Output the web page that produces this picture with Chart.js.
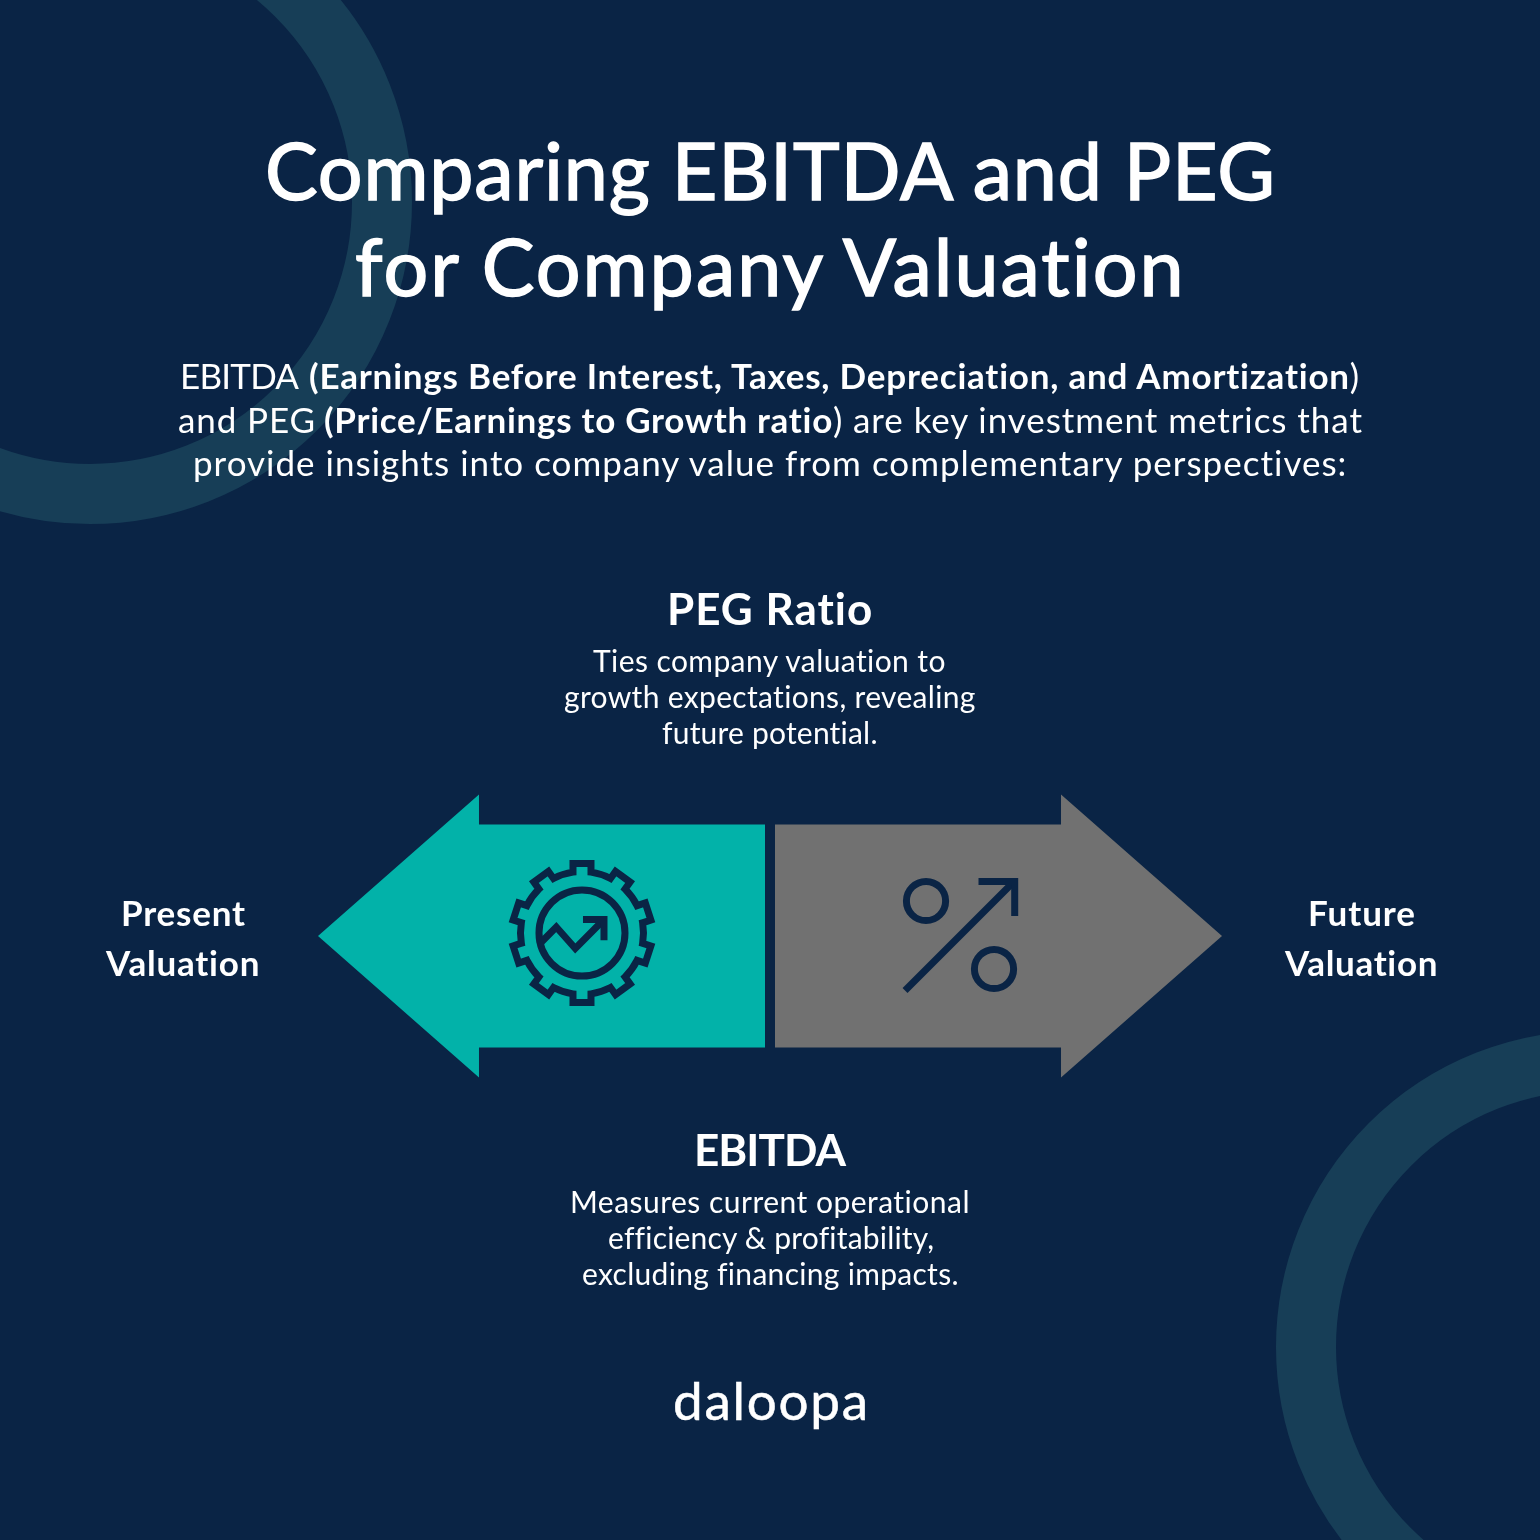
<!DOCTYPE html>
<html>
<head>
<meta charset="utf-8">
<script src="https://cdn.jsdelivr.net/npm/chart.js@4/dist/chart.umd.min.js"></script>
<style>
html,body{margin:0;padding:0;background:#0a2445;}
#stage{position:relative;width:1540px;height:1540px;overflow:hidden;background:#0a2445;}
canvas{position:absolute;left:0;top:0;}
.t{position:absolute;white-space:nowrap;line-height:0;color:#fff;font-family:Lato,sans-serif;font-weight:400;}
.title{font-size:79px;-webkit-text-stroke:1.5px #fff;}
.body{font-size:35px;}
.body b{font-weight:700;}
.head{font-size:44px;font-weight:700;}
.desc{font-size:30px;}
.side{font-size:35px;font-weight:700;}
.logo{font-size:53px;-webkit-text-stroke:0.5px #fff;}
</style>
</head>
<body>
<div id="stage">
<canvas id="chart" width="1540" height="1540"></canvas>
<div class="t title" data-x="265" data-w="1010" data-b="200">Comparing EBITDA and PEG</div>
<div class="t title" data-x="355" data-w="830" data-b="296">for Company Valuation</div>
<div class="t body" data-x="180" data-w="119" data-b="389">EBITDA</div>
<div class="t body" data-x="309" data-w="1052" data-b="389"><b>(Earnings Before Interest, Taxes, Depreciation, and Amortization</b>)</div>
<div class="t body" data-x="178" data-w="137" data-b="433">and PEG</div>
<div class="t body" data-x="324" data-w="519" data-b="433"><b>(Price/Earnings to Growth ratio</b>)</div>
<div class="t body" data-x="853" data-w="509" data-b="433">are key investment metrics that</div>
<div class="t body" data-x="193" data-w="1154" data-b="476">provide insights into company value from complementary perspectives:</div>
<div class="t head" data-x="667" data-w="206" data-b="625">PEG Ratio</div>
<div class="t desc" data-x="593" data-w="353" data-b="672">Ties company valuation to</div>
<div class="t desc" data-x="564" data-w="412" data-b="708">growth expectations, revealing</div>
<div class="t desc" data-x="662" data-w="216" data-b="744">future potential.</div>
<div class="t side" data-x="121" data-w="124" data-b="926">Present</div>
<div class="t side" data-x="106" data-w="154" data-b="976">Valuation</div>
<div class="t side" data-x="1308" data-w="107" data-b="926">Future</div>
<div class="t side" data-x="1285" data-w="153" data-b="976">Valuation</div>
<div class="t head" data-x="694" data-w="152" data-b="1166">EBITDA</div>
<div class="t desc" data-x="570" data-w="400" data-b="1213">Measures current operational</div>
<div class="t desc" data-x="608" data-w="324" data-b="1249">efficiency &amp; profitability,</div>
<div class="t desc" data-x="582" data-w="376" data-b="1285">excluding financing impacts.</div>
<div class="t logo" data-x="673" data-w="195" data-b="1420">daloopa</div>
</div>
<script>
const categories = ["Valuation"];
const seriesNames = ["EBITDA", "PEG Ratio"];
const ebitdaValues = [-100];
const pegValues = [100];

const NAVY = "#0a2445", RING = "#173e57", TEAL = "#02b2a9", GREY = "#717171";

function gearIcon(ctx, cx, cy) {
  ctx.save();
  ctx.translate(cx, cy);
  ctx.strokeStyle = NAVY; ctx.lineWidth = 7; ctx.lineJoin = "miter"; ctx.lineCap = "butt";
  ctx.beginPath();
  const n = 10, base = 61.5, tip = 69.5, hw = 9;
  const da = Math.asin(hw / base);
  for (let i = 0; i < n; i++) {
    const a = -Math.PI / 2 + i * 2 * Math.PI / n;
    const ux = Math.cos(a), uy = Math.sin(a), vx = -uy, vy = ux;
    ctx.arc(0, 0, base, a - 2 * Math.PI / n + da, a - da);
    ctx.lineTo(ux * tip - vx * hw, uy * tip - vy * hw);
    ctx.lineTo(ux * tip + vx * hw, uy * tip + vy * hw);
    ctx.lineTo(ux * base + vx * hw, uy * base + vy * hw);
  }
  ctx.closePath();
  ctx.stroke();
  ctx.beginPath(); ctx.arc(0, 0, 43, 0, 2 * Math.PI); ctx.stroke();
  ctx.beginPath();
  ctx.moveTo(-43, 11.5); ctx.lineTo(-25.7, -6); ctx.lineTo(-6.7, 15.5); ctx.lineTo(22, -13.5);
  ctx.stroke();
  ctx.beginPath();
  ctx.moveTo(1, -13.5); ctx.lineTo(22, -13.5); ctx.lineTo(22, 7.3);
  ctx.stroke();
  ctx.restore();
}
function percentIcon(ctx, cx, cy) {
  ctx.save();
  ctx.translate(cx, cy);
  ctx.strokeStyle = NAVY; ctx.lineWidth = 7; ctx.lineJoin = "miter";
  ctx.beginPath(); ctx.arc(-34, -34, 19.6, 0, 2 * Math.PI); ctx.stroke();
  ctx.beginPath(); ctx.arc(34, 34, 19.6, 0, 2 * Math.PI); ctx.stroke();
  ctx.beginPath(); ctx.moveTo(-55, 55.5); ctx.lineTo(54.5, -54); ctx.stroke();
  ctx.beginPath(); ctx.moveTo(18.5, -53.5); ctx.lineTo(54.7, -53.5); ctx.lineTo(54.7, -19); ctx.stroke();
  ctx.restore();
}
const rings = {
  id: "rings",
  beforeDatasetsDraw(chart) {
    const c = chart.ctx;
    c.save();
    c.strokeStyle = RING; c.lineWidth = 60;
    c.beginPath(); c.arc(90, 202, 292, 0, 2 * Math.PI); c.stroke();
    c.beginPath(); c.arc(1592.4, 1347, 286.4, 0, 2 * Math.PI); c.stroke();
    c.restore();
  }
};
const arrows = {
  id: "arrows",
  afterDatasetsDraw(chart) {
    const c = chart.ctx, GAP = 5, HEAD = 161, FLARE = 30;
    chart.data.datasets.forEach((ds, i) => {
      const el = chart.getDatasetMeta(i).data[0];
      const dir = Math.sign(el.x - el.base);
      const tip = el.x, y = el.y, h = el.height / 2;
      const start = el.base + dir * GAP, neck = tip - dir * HEAD;
      c.fillStyle = ds.arrowColor;
      c.beginPath();
      c.moveTo(start, y - h);
      c.lineTo(neck, y - h);
      c.lineTo(neck, y - h - FLARE);
      c.lineTo(tip, y);
      c.lineTo(neck, y + h + FLARE);
      c.lineTo(neck, y + h);
      c.lineTo(start, y + h);
      c.closePath();
      c.fill();
      if (dir < 0) gearIcon(c, neck + 103, y - 3); else percentIcon(c, neck - 101, y - 1);
    });
  }
};
new Chart(document.getElementById("chart"), {
  type: "bar",
  data: {
    labels: categories,
    datasets: [
      { label: seriesNames[0], data: ebitdaValues, stack: "v", backgroundColor: "transparent", arrowColor: TEAL, barThickness: 223 },
      { label: seriesNames[1], data: pegValues, stack: "v", backgroundColor: "transparent", arrowColor: GREY, barThickness: 223 }
    ]
  },
  options: {
    indexAxis: "y",
    responsive: false,
    animation: false,
    devicePixelRatio: 1,
    layout: { padding: { top: 332, left: 0, right: 0, bottom: 0 } },
    plugins: { legend: { display: false }, tooltip: { enabled: false }, title: { display: false } },
    scales: {
      x: { type: "linear", min: -170.35, max: 170.35, stacked: true, display: false },
      y: { type: "category", stacked: true, display: false }
    }
  },
  plugins: [rings, arrows]
});
function place() {
  document.querySelectorAll(".t").forEach(el => {
    const x = +el.dataset.x, w = +el.dataset.w, b = +el.dataset.b;
    el.style.left = x + "px"; el.style.top = b + "px"; el.style.letterSpacing = "0px";
    const r = document.createRange(); r.selectNodeContents(el);
    const measured = r.getBoundingClientRect().width;
    const n = el.textContent.length;
    el.style.letterSpacing = ((w - measured) / (n - 1)) + "px";
    const probe = document.createElement("span");
    probe.style.cssText = "display:inline-block;width:0;height:0";
    el.appendChild(probe);
    const dy = b - probe.getBoundingClientRect().bottom;
    el.removeChild(probe);
    el.style.top = (b + dy) + "px";
  });
}
place();
if (document.fonts && document.fonts.ready) document.fonts.ready.then(place);
</script>
</body>
</html>
